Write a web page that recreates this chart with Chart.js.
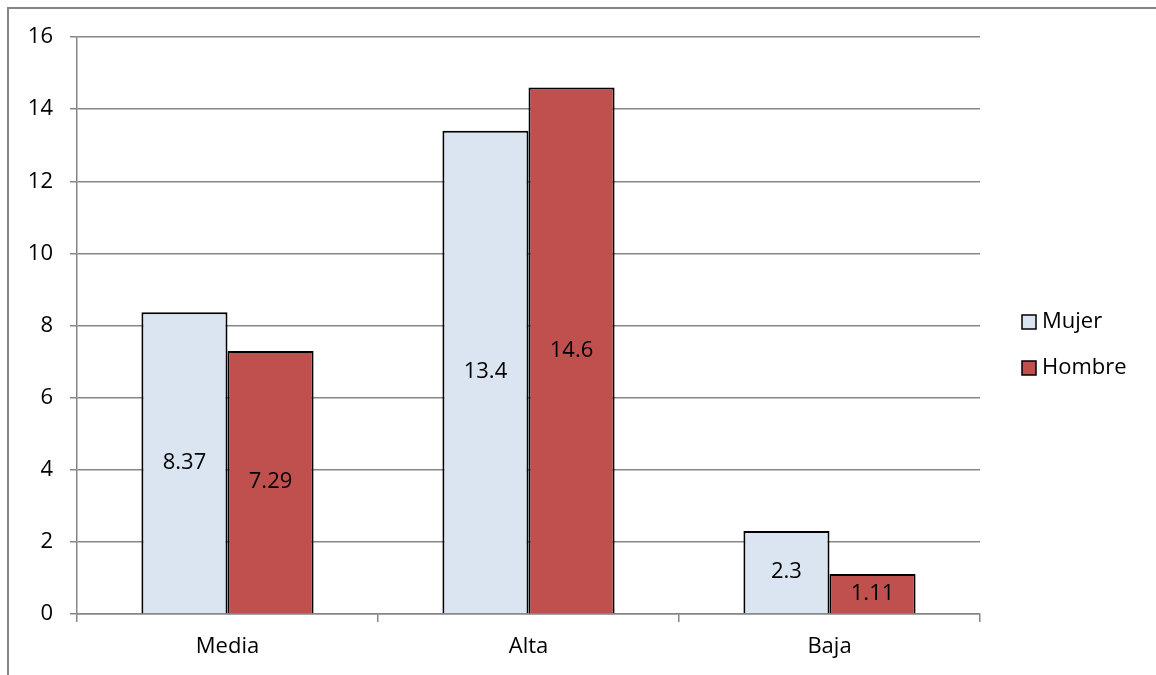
<!DOCTYPE html>
<html>
<head>
<meta charset="utf-8">
<script src="https://cdn.jsdelivr.net/npm/chart.js@4"></script>
<style>
  html, body { margin: 0; padding: 0; background: #fff; }
  #wrap { width: 1156px; height: 675px; }
</style>
</head>
<body>
<div id="wrap"><canvas id="nivelChart" width="1156" height="675"></canvas></div>
<script>
// categorias y valores por sexo
const categorias = ['Media', 'Alta', 'Baja'];
const mujer = [8.37, 13.4, 2.3];
const hombre = [7.29, 14.6, 1.11];
const yTicks = [0, 2, 4, 6, 8, 10, 12, 14, 16];

const FONT = '"Open Sans", "Liberation Sans", sans-serif';
const GRIS = '#868686';

// marco exterior del grafico
const marco = {
    id: 'marco',
    beforeDraw(chart) {
        const ctx = chart.ctx;
        ctx.save();
        ctx.strokeStyle = GRIS;
        ctx.lineWidth = 2;
        ctx.beginPath();
        ctx.moveTo(8, chart.height + 2);
        ctx.lineTo(8, 8);
        ctx.lineTo(chart.width + 2, 8);
        ctx.stroke();
        ctx.restore();
    }
};

// valores escritos dentro de cada barra
const etiquetas = {
    id: 'etiquetas',
    afterDatasetsDraw(chart) {
        const ctx = chart.ctx;
        ctx.save();
        ctx.font = '22px ' + FONT;
        ctx.fillStyle = '#000';
        ctx.textAlign = 'center';
        ctx.textBaseline = 'middle';
        chart.data.datasets.forEach((ds, i) => {
            chart.getDatasetMeta(i).data.forEach((bar, j) => {
                const yMid = (bar.y + bar.base) / 2;
                ctx.fillText(String(ds.data[j]), bar.x, yMid);
            });
        });
        ctx.restore();
    }
};

// leyenda a la derecha
const leyenda = {
    id: 'leyenda',
    afterDraw(chart) {
        const ctx = chart.ctx;
        ctx.save();
        ctx.font = '22px ' + FONT;
        ctx.textBaseline = 'middle';
        chart.data.datasets.forEach((ds, i) => {
            const y = 322 + i * 46;
            const x = 1022;
            ctx.fillStyle = ds.backgroundColor;
            ctx.fillRect(x, y - 7, 14, 14);
            ctx.strokeStyle = '#000';
            ctx.lineWidth = 1.5;
            ctx.strokeRect(x, y - 7, 14, 14);
            ctx.fillStyle = '#000';
            ctx.fillText(ds.label, x + 20, y);
        });
        ctx.restore();
    }
};

const ctx = document.getElementById('nivelChart');
new Chart(ctx, {
    type: 'bar',
    data: {
        labels: categorias,
        datasets: [{
            label: 'Mujer',
            data: mujer,
            backgroundColor: '#DBE5F1',
            borderColor: '#000',
            borderWidth: 2,
            borderSkipped: 'bottom'
        }, {
            label: 'Hombre',
            data: hombre,
            backgroundColor: '#C0504D',
            borderColor: '#000',
            borderWidth: 2,
            borderSkipped: 'bottom'
        }]
    },
    options: {
        responsive: false,
        animation: false,
        layout: { padding: { top: 37, left: 0, right: 176, bottom: 0 } },
        datasets: { bar: { categoryPercentage: 0.572, barPercentage: 1 } },
        plugins: {
            legend: { display: false },
            tooltip: { enabled: false }
        },
        scales: {
            x: {
                offset: true,
                afterFit(scale) { scale.height = 61; },
                grid: {
                    offset: true,
                    drawOnChartArea: false,
                    drawTicks: true,
                    tickLength: 8,
                    color: GRIS,
                    lineWidth: 1.5
                },
                border: { color: GRIS, width: 1.5 },
                ticks: {
                    color: '#000',
                    font: { family: FONT, size: 22 },
                    padding: 12
                }
            },
            y: {
                min: 0,
                max: 16,
                afterFit(scale) { scale.width = 77; },
                afterBuildTicks(scale) {
                    scale.ticks = yTicks.map(v => ({ value: v }));
                },
                grid: {
                    color: GRIS,
                    lineWidth: 1.5,
                    drawTicks: true,
                    tickLength: 7
                },
                border: { color: GRIS, width: 1.5 },
                ticks: {
                    color: '#000',
                    font: { family: FONT, size: 22 },
                    padding: 17
                }
            }
        }
    },
    plugins: [marco, etiquetas, leyenda]
});
</script>
</body>
</html>
